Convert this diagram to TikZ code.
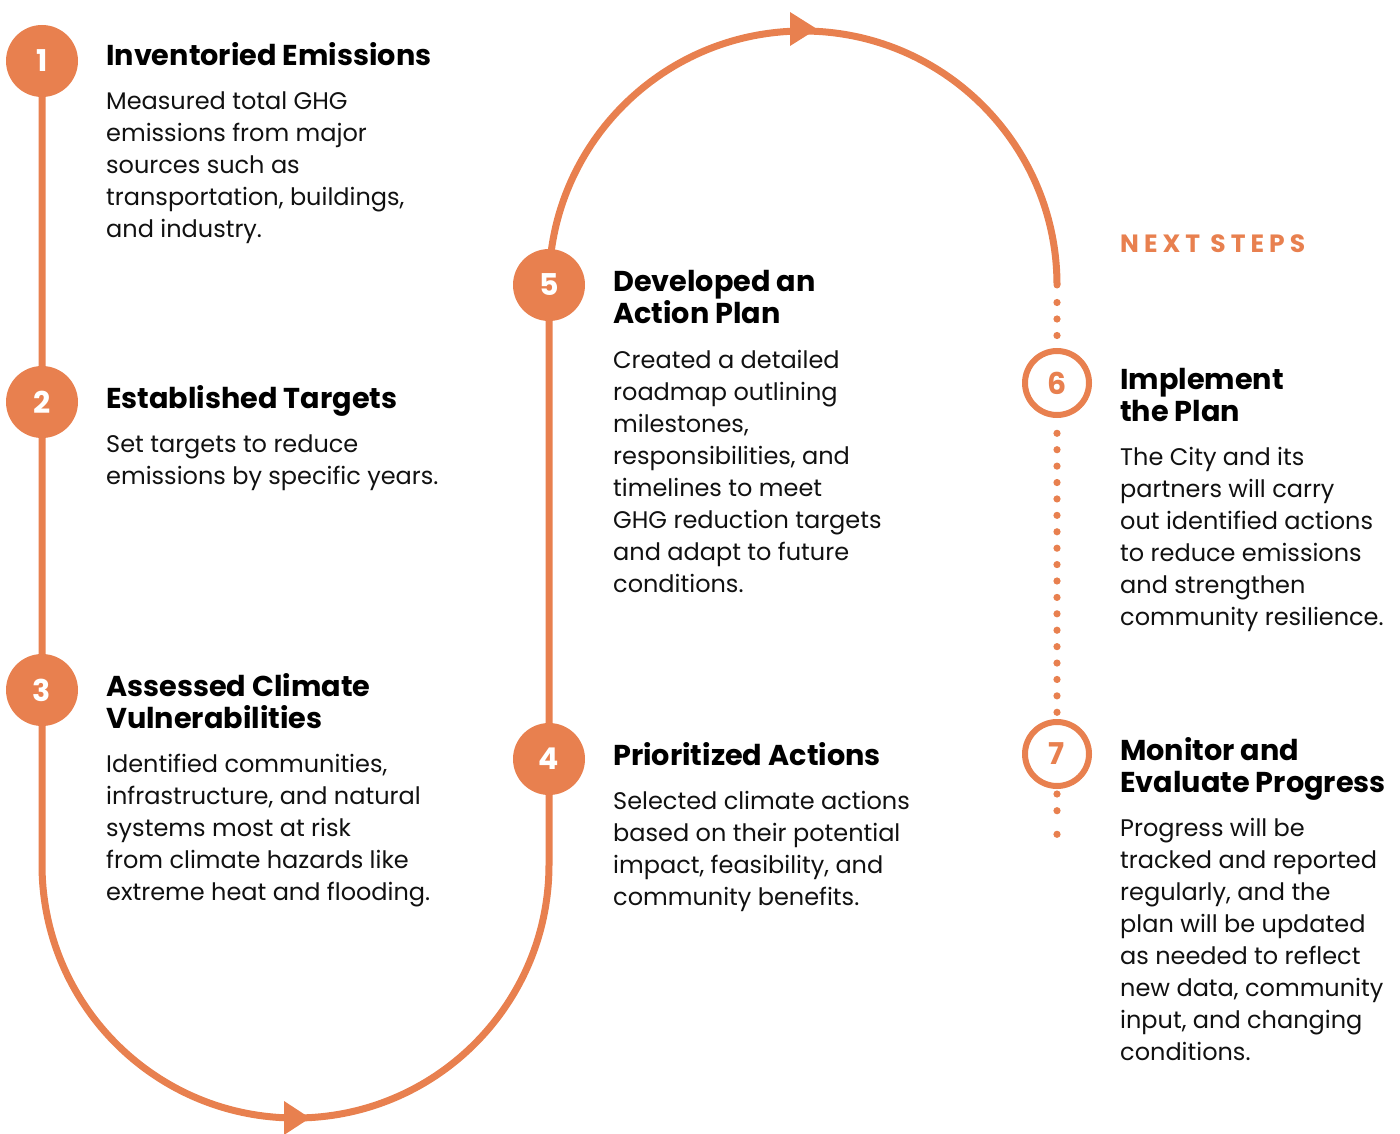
\documentclass[tikz,border=0pt]{standalone}
\usepackage{fontspec}
\setmainfont{Poppins}
\usetikzlibrary{backgrounds}
\definecolor{org}{RGB}{232,128,79}
\definecolor{ink}{RGB}{17,17,17}
\newcommand\mlines[1]{\begin{tabular}[t]{@{}l@{}}#1\end{tabular}}
\begin{document}
\begin{tikzpicture}[x=1pt,y=-1pt,
  trk/.style={draw=org, line width=7pt},
  numfill/.style={circle, fill=org, minimum size=72pt, inner sep=0pt, text=white, font=\bfseries\fontsize{30}{30}\selectfont},
  numring/.style={circle, draw=org, line width=6pt, fill=white, minimum size=64pt, inner sep=0pt, text=org, font=\bfseries\fontsize{30}{30}\selectfont},
  ttl/.style={anchor=base west, inner sep=0pt, text=black, font=\bfseries\fontsize{28.7}{32}\selectfont},
  bdy/.style={anchor=base west, inner sep=0pt, text=ink, font=\fontsize{24}{32}\selectfont},
  nxt/.style={anchor=base west, inner sep=0pt, text=org, font=\bfseries\fontsize{25}{26}\selectfont\addfontfeatures{LetterSpace=20}},
  dotfill/.style={fill=org}]
\useasboundingbox (0,0) rectangle (1400,1134);

% step circles
\node[numfill] (n1) at (42,61) {1};
\node[numfill] (n2) at (42,402) {2};
\node[numfill] (n3) at (42,690) {3};
\node[numfill] (n4) at (549,759) {4};
\node[numfill] (n5) at (549,285) {5};
\node[numring] (n6) at (1057,383) {6};
\node[numring] (n7) at (1057,754) {7};

% track
\begin{scope}[on background layer]
\draw[trk, line cap=round] (n1.center) -- (n2.center) -- (n3.center) -- (42,864.5)
  arc[start angle=180, end angle=360, radius=253.5pt] -- (n4.center) -- (n5.center)
  arc[start angle=180, end angle=0, radius=254pt] coordinate (arcend);
\end{scope}
% arrowheads
\fill[org] (284,1101) -- (310,1118) -- (284,1135) -- cycle;
\fill[org] (790,12) -- (817,29) -- (790,46) -- cycle;

% dotted next steps
\foreach \yy in {302.5,319,335.5} \fill[dotfill] (1057,\yy) circle[radius=3.6pt];
\foreach \i in {0,...,17} \fill[dotfill] (1057,{433.3+16.41*\i}) circle[radius=3.6pt];
\foreach \yy in {794,810.7,834.3} \fill[dotfill] (1057,\yy) circle[radius=3.6pt];

% column 1
\node[ttl] (t1) at (106,66) {Inventoried Emissions};
\node[bdy] (b1) at (106,110) {\mlines{Measured total GHG\\emissions from major\\sources such as\\transportation, buildings,\\and industry.}};
\node[ttl] (t2) at (106,408) {Established Targets};
\node[bdy] (b2) at (106,452) {\mlines{Set targets to reduce\\emissions by specific years.}};
\node[ttl] (t3) at (106,696) {\mlines{Assessed Climate\\Vulnerabilities}};
\node[bdy] (b3) at (106,772) {\mlines{Identified communities,\\infrastructure, and natural\\systems most at risk\\from climate hazards like\\extreme heat and flooding.}};

% column 2
\node[ttl] (t5) at (613,291) {\mlines{Developed an\\Action Plan}};
\node[bdy] (b5) at (613,368) {\mlines{Created a detailed\\roadmap outlining\\milestones,\\responsibilities, and\\timelines to meet\\GHG reduction targets\\and adapt to future\\conditions.}};
\node[ttl] (t4) at (613,765) {Prioritized Actions};
\node[bdy] (b4) at (613,809) {\mlines{Selected climate actions\\based on their potential\\impact, feasibility, and\\community benefits.}};

% column 3
\node[nxt] (ns) at (1120,252) {NEXT STEPS};
\node[ttl] (t6) at (1120,389) {\mlines{Implement\\the Plan}};
\node[bdy] (b6) at (1120,465) {\mlines{The City and its\\partners will carry\\out identified actions\\to reduce emissions\\and strengthen\\community resilience.}};
\node[ttl] (t7) at (1120,760) {\mlines{Monitor and\\Evaluate Progress}};
\node[bdy] (b7) at (1120,836) {\mlines{Progress will be\\tracked and reported\\regularly, and the\\plan will be updated\\as needed to reflect\\new data, community\\input, and changing\\conditions.}};
\end{tikzpicture}
\end{document}
